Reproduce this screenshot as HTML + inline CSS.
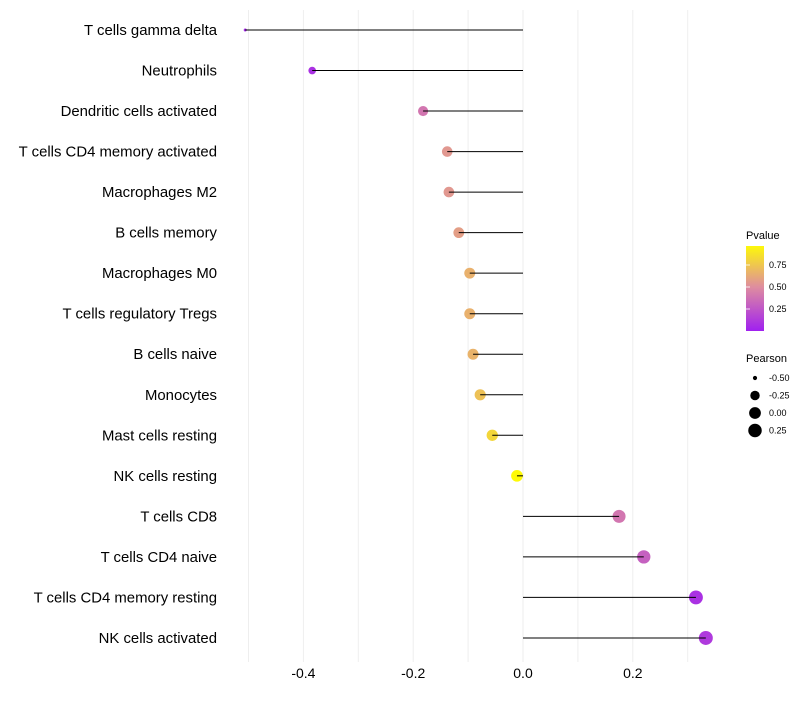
<!DOCTYPE html>
<html><head><meta charset="utf-8"><style>
body{margin:0;background:#fff;font-family:"Liberation Sans",sans-serif}
</style></head><body>
<svg id="c" width="800" height="700" xmlns="http://www.w3.org/2000/svg"></svg>
<script>
const categories=["T cells gamma delta","Neutrophils","Dendritic cells activated","T cells CD4 memory activated","Macrophages M2","B cells memory","Macrophages M0","T cells regulatory  Tregs ","B cells naive","Monocytes","Mast cells resting","NK cells resting","T cells CD8","T cells CD4 naive","T cells CD4 memory resting","NK cells activated"];
const pearson=[-0.506,-0.384,-0.182,-0.138,-0.135,-0.117,-0.097,-0.097,-0.091,-0.078,-0.056,-0.011,0.175,0.220,0.315,0.333];
const pvalue=[0.05,0.08,0.4,0.55,0.55,0.58,0.66,0.66,0.67,0.73,0.82,0.98,0.4,0.3,0.08,0.12];
const xTicks=[-0.4,-0.2,0.0,0.2];
const xTickLabels=["-0.4","-0.2","0.0","0.2"];
const gridVals=[-0.5,-0.4,-0.3,-0.2,-0.1,0,0.1,0.2,0.3];
const pTicks=[0.25,0.5,0.75];
const pTickLabels=["0.25","0.50","0.75"];
const sizeLegend=[-0.5,-0.25,0,0.25];
const sizeLegendLabels=["-0.50","-0.25","0.00","0.25"];

const svg=document.getElementById('c');
const NS="http://www.w3.org/2000/svg";
const x=v=>523+v*549;
const y=i=>30+i*40.53;
const r=p=>1.5+5.5*Math.pow(Math.max(0,(p+0.506)/0.84),0.45);
function col(p){
  const a=[160,32,240],b=[222,140,160],c=[255,255,0];
  let s,e,t;
  if(p<0.5){s=a;e=b;t=p/0.5}else{s=b;e=c;t=(p-0.5)/0.5}
  return `rgb(${s.map((v,k)=>Math.round(v+(e[k]-v)*t)).join(',')})`;
}
function mk(tag,attrs,txt){const el=document.createElementNS(NS,tag);for(const k in attrs)el.setAttribute(k,attrs[k]);if(txt!=null)el.textContent=txt;svg.appendChild(el);return el;}

gridVals.forEach(v=>{
  const el=mk('line',{x1:x(v),x2:x(v),y1:10,y2:662,stroke:'#eeeeee','stroke-width':1});
  
  
});
xTicks.forEach((v,i)=>{
  const el=mk('text',{x:x(v),y:678,'text-anchor':'middle','font-size':14,fill:'#000'},xTickLabels[i]);
  
  
});
categories.forEach((c,i)=>{
  const t=mk('text',{x:217,y:y(i)+5,'text-anchor':'end','font-size':14.9,fill:'#000'},c);
  
  
  const pt=mk('circle',{cx:x(pearson[i]),cy:y(i),r:r(pearson[i]),fill:col(pvalue[i])});
  
  
  const ln=mk('line',{x1:x(0),x2:x(pearson[i]),y1:y(i),y2:y(i),stroke:'#000','stroke-width':1});
  
  
});
const defs=document.createElementNS(NS,'defs');
defs.innerHTML='<linearGradient id="g" x1="0" y1="1" x2="0" y2="0"><stop offset="0" stop-color="'+col(0)+'"/><stop offset="0.515" stop-color="'+col(0.5)+'"/><stop offset="1" stop-color="'+col(0.97)+'"/></linearGradient>';
svg.appendChild(defs);
const lt=mk('text',{x:746,y:239,'font-size':11},'Pvalue');


const bar=mk('rect',{x:746,y:246,width:18,height:85,fill:'url(#g)'});


pTicks.forEach((p,i)=>{
  const yy=331-p*88;
  const tk=mk('line',{x1:746,x2:750,y1:yy,y2:yy,stroke:'#fff','stroke-width':0.8});
  
  
  const tt=mk('text',{x:769,y:yy+3,'font-size':9},pTickLabels[i]);
  
  
});
const st=mk('text',{x:746,y:362,'font-size':11},'Pearson');


sizeLegend.forEach((p,i)=>{
  const yy=378+i*17.5;
  const c=mk('circle',{cx:755,cy:yy,r:r(p),fill:'#000'});
  
  
  const tt=mk('text',{x:769,y:yy+3,'font-size':9},sizeLegendLabels[i]);
  
  
});
</script>
</body></html>
